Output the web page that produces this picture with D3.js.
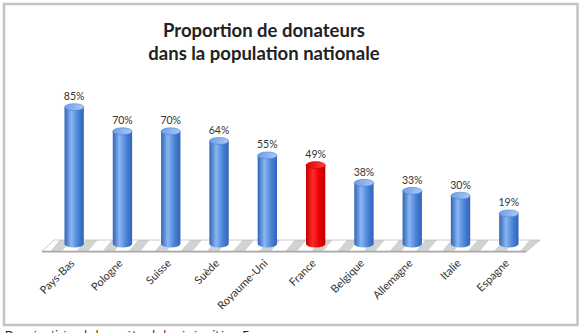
<!DOCTYPE html>
<html><head><meta charset="utf-8">
<script src="https://cdn.jsdelivr.net/npm/d3@7/dist/d3.min.js"></script>
<style>
html,body{margin:0;padding:0;background:#fff;}
svg{display:block;}
</style></head>
<body>
<svg id="c" width="582" height="333"></svg>
<script>
const categories = ["Pays-Bas","Pologne","Suisse","Suède","Royaume-Uni","France","Belgique","Allemagne","Italie","Espagne"];
const values = [85,70,70,64,55,49,38,33,30,19];
const highlight = ["France"];
const titleLines = ["Proportion de donateurs","dans la population nationale"];
const caption = "Données tirées du baromètre de la générosité en Europe";

const svg = d3.select("#c");
const defs = svg.append("defs");

function cylGrad(id, dark, mid, light){
  const g = defs.append("linearGradient").attr("id",id).attr("x1","0").attr("x2","1").attr("y1","0").attr("y2","0");
  g.append("stop").attr("offset","0%").attr("stop-color",dark);
  g.append("stop").attr("offset","35%").attr("stop-color",light);
  g.append("stop").attr("offset","70%").attr("stop-color",mid);
  g.append("stop").attr("offset","100%").attr("stop-color",dark);
}
cylGrad("gBlue","#2f64b8","#4a82d6","#8ab6f2");
cylGrad("gRed","#c40000","#e80000","#ff2a2a");
const tb = defs.append("linearGradient").attr("id","tBlue").attr("x1","0").attr("x2","1");
tb.append("stop").attr("offset","0%").attr("stop-color","#6f9ee6");
tb.append("stop").attr("offset","100%").attr("stop-color","#a9c9f6");
const tr = defs.append("linearGradient").attr("id","tRed").attr("x1","0").attr("x2","1");
tr.append("stop").attr("offset","0%").attr("stop-color","#e00000");
tr.append("stop").attr("offset","100%").attr("stop-color","#ff4040");

const pat = defs.append("pattern").attr("id","stripes").attr("patternUnits","userSpaceOnUse")
  .attr("width",20).attr("height",20).attr("patternTransform","rotate(40)");
pat.append("rect").attr("width",20).attr("height",20).attr("fill","#ffffff");
pat.append("rect").attr("width",9).attr("height",20).attr("fill","#d2d2d2");

// frame
svg.append("rect").attr("x",4).attr("y",4).attr("width",573.5).attr("height",321)
  .attr("fill","#fff").attr("stroke","#c4c4c4").attr("stroke-width",2.5);

// title
svg.append("text").attr("x",264).attr("y",37).attr("text-anchor","middle")
  .style("font-family","Lato, 'Open Sans', sans-serif").style("font-weight","bold").style("font-size","18.5px").attr("fill","#222")
  .selectAll("tspan").data(titleLines).join("tspan").attr("x",264).attr("dy",(d,i)=>i?23:0).text(d=>d);

const x = d3.scaleBand().domain(categories).range([50,533]).paddingInner(0.6).paddingOuter(0.3);
const y = d3.scaleLinear().domain([0,100]).range([244,83]);

// floor
const fy0 = y(0);
const floorBack = fy0-4, floorFront = fy0+7;
const xl = x.range()[0], xr = x.range()[1];
svg.append("path")
  .attr("d",`M${xl-8},${floorFront}L${xl+4},${floorBack}L${xr+7},${floorBack}L${xr-6},${floorFront}Z`)
  .attr("fill","url(#stripes)").attr("stroke","#bdbdbd").attr("stroke-width",0.8);
svg.append("path")
  .attr("d",`M${xl-8},${floorFront}L${xr-6},${floorFront}L${xr-7},${floorFront+1.5}L${xl-8},${floorFront+1.5}Z`)
  .attr("fill","#a8a8a8");

const rx = x.bandwidth()/2, ry = 3.5;
const bars = svg.append("g").selectAll("g").data(categories).join("g");
bars.append("path").attr("d",(d,i)=>{
  const cx = x(d)+rx, yt = y(values[i]), yb = y(0);
  return `M${cx-rx},${yt}L${cx-rx},${yb}A${rx},${ry} 0 0 0 ${cx+rx},${yb}L${cx+rx},${yt}Z`;
}).attr("fill",d=>highlight.includes(d)?"url(#gRed)":"url(#gBlue)");
bars.append("ellipse").attr("cx",d=>x(d)+rx).attr("cy",(d,i)=>y(values[i]))
  .attr("rx",rx).attr("ry",ry)
  .attr("fill",d=>highlight.includes(d)?"url(#tRed)":"url(#tBlue)")
  .attr("stroke",d=>highlight.includes(d)?"#d00000":"#4a7fd0").attr("stroke-width",0.6);

// value labels
svg.append("g").selectAll("text").data(categories).join("text")
  .attr("x",d=>x(d)+rx).attr("y",(d,i)=>y(values[i])-7)
  .attr("text-anchor","middle")
  .style("font-family","Lato, 'Open Sans', sans-serif").style("font-size","10.5px").attr("fill","#333")
  .text((d,i)=>values[i]+"%");

// category labels
svg.append("g").selectAll("text").data(categories).join("text")
  .attr("transform",d=>`translate(${x(d)+rx+1},${fy0+20}) rotate(-45)`)
  .attr("text-anchor","end")
  .style("font-family","Lato, 'Open Sans', sans-serif").style("font-size","11px").attr("fill","#333")
  .text(d=>d);

// caption (cut by window edge, as in the reference)
svg.append("text").attr("x",5).attr("y",339)
  .style("font-family","Lato, 'Open Sans', sans-serif").style("font-size","11px").attr("fill","#222")
  .text(caption);
</script>
</body></html>
